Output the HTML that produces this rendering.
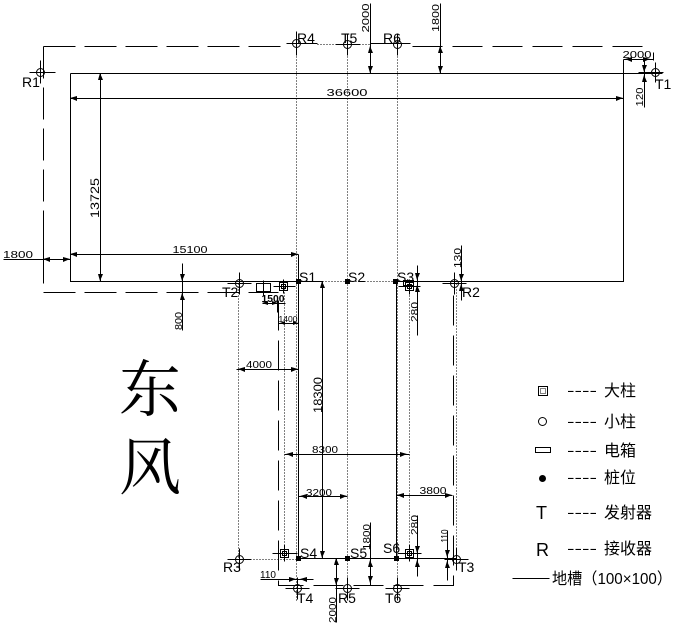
<!DOCTYPE html>
<html><head><meta charset="utf-8"><style>
html,body{margin:0;padding:0;background:#fff;}
svg{display:block;}
.d{font-family:"Liberation Sans",sans-serif;font-size:10px;fill:#000;}
.l{font-family:"Liberation Sans",sans-serif;font-size:14px;fill:#000;}
.c{font-family:"Liberation Sans","Noto Sans CJK SC",sans-serif;font-size:16px;fill:#000;}
</style></head><body>
<svg width="675" height="628" viewBox="0 0 675 628" xmlns="http://www.w3.org/2000/svg">
<rect width="675" height="628" fill="#fff"/>
<g stroke="#000" stroke-width="1" fill="none" transform="translate(0.5,0.5)">
  <!-- trench dashed -->
  <path d="M43,46 H287" stroke-dasharray="32 9"/>
  <path d="M412,46 H645" stroke-dasharray="30 10"/>
  <path d="M43,46 V292 H278" stroke-dasharray="32 9"/>
  <path d="M278,300 V585 H453 V290" stroke-dasharray="30 10"/>
  <!-- building -->
  <path d="M70,73 H662 M623,59 V281 H395 M322,281 H70 V73"/>
  <!-- extension -->
  <path d="M298,254 V558 H456 M396,281 V558 M322,281 V558"/>
  <!-- underlines -->
  <path d="M286,43 H317 M370,43 H410"/>
  <!-- dotted axes -->
  <g stroke-dasharray="1 2">
    <path d="M296,32 V600"/>
    <path d="M347,44 V600"/>
    <path d="M397,44 V600"/>
    <path d="M238,283 V559"/>
    <path d="M456,283 V559"/>
    <path d="M284,286 V553"/>
    <path d="M409,286 V553"/>
    <path d="M317,44 H370"/>
    <path d="M322,281 H395"/>
    <path d="M238,559 H298"/>
  </g>
  <!-- dimension lines -->
  <path d="M70,98 H623"/>
  <path d="M100,73 V281"/>
  <path d="M370,3 V73 M440,3 V73"/>
  <path d="M623,59 H653 M653,52 V60"/>
  <path d="M644,59 V107"/>
  <path d="M3,259 H70 M43,233 V265"/>
  <path d="M70,254 H298"/>
  <path d="M182,263 V330"/>
  <path d="M262,303 H285 M277,300 V312"/>
  <path d="M278,323 H298"/>
  <path d="M461,245 V300"/>
  <path d="M417,265 V335"/>
  <path d="M236,369 H298"/>
  <path d="M284,454 H409"/>
  <path d="M298,496 H347"/>
  <path d="M396,495 H452"/>
  <path d="M336,558 V622"/>
  <path d="M370,522 V585"/>
  <path d="M417,515 V576"/>
  <path d="M447,530 V580"/>
  <path d="M260,579 H313"/>
  <!-- crosshairs (T/R) -->
  <g>
    <circle cx="40" cy="72" r="4"/><path d="M29,72 H55 M40,60 V83"/>
    <circle cx="296" cy="43" r="4"/><path d="M296,31 V55"/>
    <circle cx="347" cy="44" r="4"/><path d="M335,44 H359 M347,33 V55"/>
    <circle cx="397" cy="44" r="4"/><path d="M397,33 V55"/>
    <circle cx="655" cy="72" r="4"/><path d="M638,72 H663 M655,62 V82"/>
    <circle cx="239" cy="283" r="4"/><path d="M227,283 H251 M239,272 V294"/>
    <circle cx="454" cy="283" r="4"/><path d="M442,283 H466 M454,272 V294"/>
    <circle cx="239" cy="559" r="4"/><path d="M227,559 H251 M239,548 V570"/>
    <circle cx="456" cy="559" r="4"/><path d="M444,559 H468 M456,548 V570"/>
    <circle cx="297" cy="588" r="4"/><path d="M285,588 H309 M297,577 V599"/>
    <circle cx="347" cy="588" r="4"/><path d="M335,588 H359 M347,577 V599"/>
    <circle cx="397" cy="588" r="4"/><path d="M385,588 H409 M397,577 V599"/>
  </g>
  <!-- big columns -->
  <g>
    <rect x="279" y="282" width="8" height="8"/><rect x="281" y="284" width="4" height="4"/><path d="M273,286 H295 M283,279 V293"/>
    <rect x="405" y="282" width="8" height="8"/><rect x="407" y="284" width="4" height="4"/><path d="M398,286 H420 M409,279 V294"/>
    <rect x="280" y="549" width="8" height="8"/><rect x="282" y="551" width="4" height="4"/><path d="M272,553 H297 M284,545 V561"/>
    <rect x="405" y="549" width="8" height="8"/><rect x="407" y="551" width="4" height="4"/><path d="M397,553 H421 M409,545 V561"/>
  </g>
  <!-- electric boxes -->
  <rect x="256" y="283" width="14" height="8"/><path d="M263,280 V296"/>
  <rect x="403" y="280" width="10" height="5"/>
  <!-- legend symbols -->
  <rect x="538" y="386" width="9" height="9"/><rect x="540" y="388" width="5" height="5" stroke-dasharray="1 1"/>
  <circle cx="542" cy="421" r="4"/>
  <rect x="535" y="447" width="15" height="5"/>
  <path d="M512,578 H549"/>
</g>
<!-- arrows -->
<g fill="#000">
  <polygon points="70,98 77,96 77,101"/><polygon points="623,98 616,96 616,101"/>
  <polygon points="100,73 98,80 103,80"/><polygon points="100,281 98,274 103,274"/>
  <polygon points="370,46 368,53 373,53"/><polygon points="370,73 368,66 373,66"/>
  <polygon points="440,46 438,53 443,53"/><polygon points="440,73 438,66 443,66"/>
  <polygon points="625,59 632,57 632,62"/><polygon points="650,59 643,57 643,62"/>
  <polygon points="644,72 642,65 647,65"/><polygon points="644,75 642,82 647,82"/>
  <polygon points="43,259 50,257 50,262"/><polygon points="70,259 63,257 63,262"/>
  <polygon points="70,254 77,252 77,257"/><polygon points="298,254 291,252 291,257"/>
  <polygon points="182,281 180,274 185,274"/><polygon points="182,293 180,300 185,300"/>
  <polygon points="461,281 459,274 464,274"/><polygon points="461,284 459,291 464,291"/>
  <polygon points="417,280 415,273 420,273"/><polygon points="417,285 415,292 420,292"/>
  <polygon points="238,369 245,367 245,372"/><polygon points="298,369 291,367 291,372"/>
  <polygon points="322,281 320,288 325,288"/><polygon points="322,558 320,551 325,551"/>
  <polygon points="286,454 293,452 293,457"/><polygon points="407,454 400,452 400,457"/>
  <polygon points="300,496 307,494 307,499"/><polygon points="347,496 340,494 340,499"/>
  <polygon points="397,495 404,493 404,498"/><polygon points="452,495 445,493 445,498"/>
  <polygon points="336,558 334,565 339,565"/><polygon points="336,585 334,578 339,578"/>
  <polygon points="370,560 368,567 373,567"/><polygon points="370,583 368,576 373,576"/>
  <polygon points="417,553 415,546 420,546"/><polygon points="417,560 415,567 420,567"/>
  <polygon points="447,557 445,550 450,550"/><polygon points="447,561 445,568 450,568"/>
  <polygon points="296,579 289,577 289,582"/><polygon points="300,579 307,577 307,582"/>
  <polygon points="262,303 268,301 268,305"/><polygon points="278,303 272,301 272,305"/>
  <polygon points="280,323 285,321 285,325"/><polygon points="298,323 293,321 293,325"/>
  <!-- S points -->
  <rect x="296" y="279" width="5" height="5"/><rect x="345" y="279" width="5" height="5"/><rect x="393" y="279" width="5" height="5"/>
  <rect x="296" y="556" width="5" height="5"/><rect x="345" y="556" width="5" height="5"/><rect x="394" y="556" width="5" height="5"/>
  <circle cx="542.5" cy="478.5" r="3.5"/>
</g>
<!-- dimension texts -->
<text class="d" x="347" y="96" text-anchor="middle" textLength="41" lengthAdjust="spacingAndGlyphs">36600</text>
<text class="d" style="font-size:12px" transform="translate(99,198) rotate(-90)" text-anchor="middle" textLength="40" lengthAdjust="spacingAndGlyphs">13725</text>
<text class="d" transform="translate(369,18) rotate(-90)" text-anchor="middle" textLength="29" lengthAdjust="spacingAndGlyphs">2000</text>
<text class="d" transform="translate(439,18) rotate(-90)" text-anchor="middle" textLength="28" lengthAdjust="spacingAndGlyphs">1800</text>
<text class="d" x="637" y="58" text-anchor="middle" textLength="29" lengthAdjust="spacingAndGlyphs">2000</text>
<text class="d" transform="translate(643,97) rotate(-90)" text-anchor="middle" textLength="19" lengthAdjust="spacingAndGlyphs">120</text>
<text class="d" x="3" y="258" textLength="30" lengthAdjust="spacingAndGlyphs">1800</text>
<text class="d" x="190" y="253" text-anchor="middle" textLength="35" lengthAdjust="spacingAndGlyphs">15100</text>
<text class="d" transform="translate(182,321) rotate(-90)" text-anchor="middle" textLength="18" lengthAdjust="spacingAndGlyphs">800</text>
<text class="d" x="273" y="302" text-anchor="middle" font-weight="bold" textLength="23" lengthAdjust="spacingAndGlyphs">1500</text>
<text class="d" style="font-size:8px" x="288" y="322" text-anchor="middle" textLength="19" lengthAdjust="spacingAndGlyphs">1400</text>
<text class="d" transform="translate(461,258) rotate(-90)" text-anchor="middle" textLength="20" lengthAdjust="spacingAndGlyphs">130</text>
<text class="d" transform="translate(418,312) rotate(-90)" text-anchor="middle" textLength="20" lengthAdjust="spacingAndGlyphs">280</text>
<text class="d" x="259" y="368" text-anchor="middle" textLength="26" lengthAdjust="spacingAndGlyphs">4000</text>
<text class="d" style="font-size:12px" transform="translate(322,395) rotate(-90)" text-anchor="middle" textLength="36" lengthAdjust="spacingAndGlyphs">18300</text>
<text class="d" x="325" y="453" text-anchor="middle" textLength="26" lengthAdjust="spacingAndGlyphs">8300</text>
<text class="d" x="319" y="496" text-anchor="middle" textLength="26" lengthAdjust="spacingAndGlyphs">3200</text>
<text class="d" x="433" y="494" text-anchor="middle" textLength="27" lengthAdjust="spacingAndGlyphs">3800</text>
<text class="d" transform="translate(336,610) rotate(-90)" text-anchor="middle" textLength="26" lengthAdjust="spacingAndGlyphs">2000</text>
<text class="d" transform="translate(370,537) rotate(-90)" text-anchor="middle" textLength="26" lengthAdjust="spacingAndGlyphs">1800</text>
<text class="d" transform="translate(418,525) rotate(-90)" text-anchor="middle" textLength="20" lengthAdjust="spacingAndGlyphs">280</text>
<text class="d" transform="translate(448,536) rotate(-90)" text-anchor="middle" textLength="13" lengthAdjust="spacingAndGlyphs">110</text>
<text class="d" x="260" y="578" textLength="16" lengthAdjust="spacingAndGlyphs">110</text>
<!-- labels -->
<text class="l" x="22" y="87">R1</text>
<text class="l" x="297" y="43">R4</text>
<text class="l" x="341" y="43">T5</text>
<text class="l" x="383" y="43">R6</text>
<text class="l" x="655" y="89">T1</text>
<text class="l" x="222" y="297">T2</text>
<text class="l" x="299" y="282">S1</text>
<text class="l" x="348" y="282">S2</text>
<text class="l" x="397" y="282">S3</text>
<text class="l" x="462" y="297">R2</text>
<text class="l" x="223" y="572">R3</text>
<text class="l" x="300" y="558">S4</text>
<text class="l" x="350" y="558">S5</text>
<text class="l" x="383" y="553">S6</text>
<text class="l" x="458" y="572">T3</text>
<text class="l" x="297" y="603">T4</text>
<text class="l" x="338" y="603">R5</text>
<text class="l" x="385" y="603">T6</text>
<!-- big characters -->
<text x="150" y="411" text-anchor="middle" style="font-family:'Liberation Serif','Noto Serif CJK SC',serif;font-size:62px;fill:#000">东</text>
<text x="150" y="489" text-anchor="middle" style="font-family:'Liberation Serif','Noto Serif CJK SC',serif;font-size:62px;fill:#000">风</text>
<!-- legend -->
<text class="l" style="font-size:18px" x="536" y="519">T</text>
<text class="l" style="font-size:18px" x="536" y="556">R</text>
<text class="d" style="font-size:14px" x="567" y="395" textLength="30" lengthAdjust="spacingAndGlyphs">----</text>
<text class="d" style="font-size:14px" x="567" y="426" textLength="30" lengthAdjust="spacingAndGlyphs">----</text>
<text class="d" style="font-size:14px" x="567" y="455" textLength="30" lengthAdjust="spacingAndGlyphs">----</text>
<text class="d" style="font-size:14px" x="567" y="482" textLength="30" lengthAdjust="spacingAndGlyphs">----</text>
<text class="d" style="font-size:14px" x="567" y="517" textLength="30" lengthAdjust="spacingAndGlyphs">----</text>
<text class="d" style="font-size:14px" x="567" y="553" textLength="30" lengthAdjust="spacingAndGlyphs">----</text>
<text class="c" x="604" y="396">大柱</text>
<text class="c" x="604" y="427">小柱</text>
<text class="c" x="604" y="456">电箱</text>
<text class="c" x="604" y="483">桩位</text>
<text class="c" x="604" y="518">发射器</text>
<text class="c" x="604" y="554">接收器</text>
<text class="c" x="552" y="584" textLength="120" lengthAdjust="spacingAndGlyphs">地槽（100×100）</text>
</svg>
</body></html>
